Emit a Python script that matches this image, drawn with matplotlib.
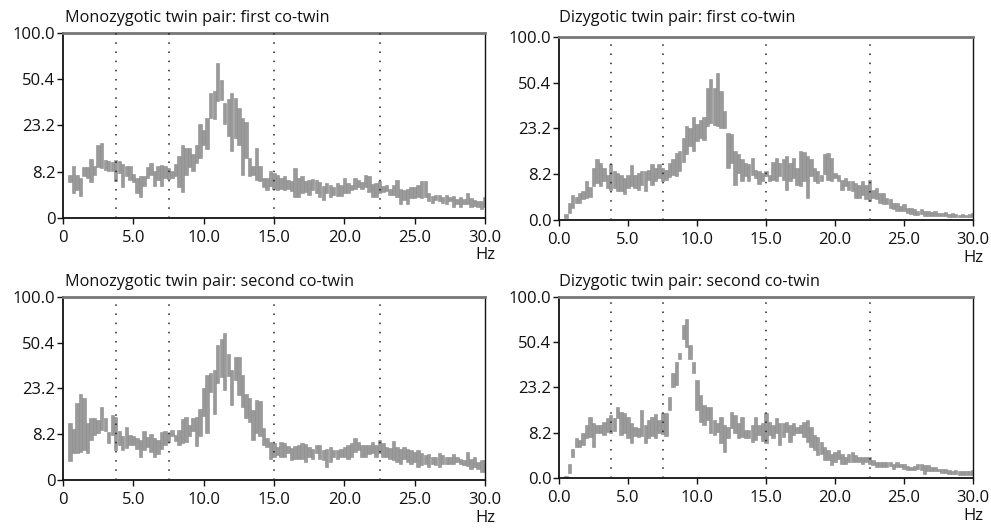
import numpy as np
import matplotlib
matplotlib.use("Agg")
import matplotlib.pyplot as plt
from matplotlib.ticker import NullLocator

plt.rcParams['font.family'] = ['Open Sans', 'DejaVu Sans']

# frequency bins (Hz)
freq = np.arange(0.5, 30.01, 0.25)
band_edges = [3.75, 7.5, 15.0, 22.5]

titles = ["Monozygotic twin pair: first co-twin",
          "Dizygotic twin pair: first co-twin",
          "Monozygotic twin pair: second co-twin",
          "Dizygotic twin pair: second co-twin"]

ytick_vals = [0, 8.2, 23.2, 50.4, 100.0]
ytick_left = ["0", "8.2", "23.2", "50.4", "100.0"]
ytick_right = ["0.0", "8.2", "23.2", "50.4", "100.0"]
xtick_vals = [0, 5, 10, 15, 20, 25, 30]
xtick_left = ["0", "5.0", "10.0", "15.0", "20.0", "25.0", "30.0"]
xtick_right = ["0.0", "5.0", "10.0", "15.0", "20.0", "25.0", "30.0"]

mz1_hi = [7.5, 9.6, 7.5, 6.7, 9.3, 9.3, 11.5, 9.7, 15.9, 16.3,
          11.3, 10.8, 10.7, 11.3, 10.8, 10.2, 9.7, 9.7, 7.8, 6.7,
          7.2, 7.3, 9.3, 10.4, 8.3, 9.7, 9.9, 9.7, 9.1, 8.3,
          10.2, 12.2, 15.9, 14.7, 14.7, 13.0, 15.6, 23.6, 21.4, 26.7,
          40.8, 42.0, 65.0, 50.1, 34.5, 36.7, 40.8, 37.5, 31.7, 26.7,
          24.6, 11.8, 9.6, 14.7, 9.6, 6.7, 6.7, 8.3, 7.9, 7.5,
          6.7, 7.2, 6.4, 6.1, 9.1, 6.7, 7.3, 6.1, 6.4, 6.5,
          6.4, 5.9, 5.2, 5.7, 5.4, 5.0, 5.7, 5.4, 6.7, 5.7,
          5.4, 6.7, 6.4, 5.9, 7.5, 7.3, 5.6, 5.7, 6.1, 5.2,
          5.4, 4.6, 5.4, 6.4, 4.6, 4.4, 4.6, 5.0, 5.0, 5.4,
          6.1, 6.1, 3.8, 3.3, 3.5, 3.5, 3.1, 3.5, 3.1, 3.3,
          2.8, 3.1, 2.8, 3.9, 2.9, 2.6, 2.4, 2.4, 3.1]
mz1_lo = [5.9, 3.8, 4.4, 3.3, 7.2, 6.7, 5.9, 7.5, 9.3, 9.1,
          8.7, 8.3, 8.3, 6.1, 7.9, 5.0, 7.2, 6.4, 5.9, 3.9,
          3.1, 5.2, 6.7, 7.5, 5.2, 6.4, 5.2, 6.7, 6.5, 6.7,
          7.2, 5.0, 4.0, 7.5, 9.3, 8.3, 10.4, 11.8, 15.9, 14.3,
          26.7, 25.9, 35.6, 36.1, 23.6, 18.9, 13.7, 18.2, 15.9, 7.5,
          11.8, 7.2, 7.5, 6.4, 6.1, 5.0, 4.4, 5.2, 4.6, 4.4,
          4.6, 4.4, 4.6, 4.2, 3.1, 3.1, 3.8, 4.0, 3.5, 4.4,
          3.8, 3.1, 2.6, 3.8, 3.1, 3.5, 3.3, 3.3, 3.8, 3.8,
          4.4, 4.6, 5.0, 4.6, 5.0, 4.0, 3.1, 3.1, 3.8, 4.0,
          4.2, 3.5, 3.5, 3.1, 2.0, 2.6, 2.0, 2.9, 2.9, 3.1,
          2.9, 3.1, 2.4, 2.2, 2.6, 2.4, 2.2, 2.0, 2.4, 1.6,
          2.0, 1.6, 2.0, 2.0, 1.6, 1.7, 1.6, 1.3, 1.6]

dz1_hi = [0.8, 2.5, 3.9, 3.6, 4.2, 4.6, 6.7, 5.4, 9.8, 12.3,
          11.2, 9.8, 8.1, 10.9, 9.0, 8.5, 8.1, 7.4, 8.1, 10.5,
          8.1, 8.5, 9.0, 9.0, 9.3, 10.7, 9.8, 10.9, 9.8, 9.3,
          11.2, 12.3, 14.1, 14.6, 19.4, 24.2, 23.4, 28.5, 25.0, 27.0,
          28.5, 46.3, 53.8, 46.6, 59.0, 44.3, 31.9, 21.4, 20.8, 14.6,
          13.6, 12.1, 11.2, 10.9, 12.6, 9.3, 9.0, 8.5, 9.0, 8.1,
          11.5, 12.6, 11.2, 12.1, 13.0, 11.2, 12.6, 9.8, 14.6, 14.4,
          13.0, 12.1, 9.8, 9.0, 8.1, 13.6, 14.1, 12.6, 8.5, 8.1,
          6.9, 7.4, 6.6, 6.6, 6.2, 5.9, 6.6, 5.9, 6.9, 4.8,
          5.2, 4.2, 4.2, 3.3, 3.1, 2.5, 2.5, 2.0, 2.3, 1.7,
          1.7, 1.5, 1.3, 1.5, 1.3, 1.2, 1.1, 1.2, 0.9, 0.9,
          1.1, 0.8, 0.9, 0.8, 0.7, 0.8, 0.7, 0.8, 0.9]
dz1_lo = [0.2, 0.9, 1.7, 2.5, 2.5, 3.1, 3.3, 3.5, 5.6, 6.2,
          5.6, 6.6, 5.2, 4.8, 5.2, 4.6, 4.6, 4.0, 5.2, 5.6,
          5.2, 4.8, 5.9, 4.6, 6.9, 5.9, 6.6, 7.4, 6.6, 6.9,
          7.5, 8.1, 7.8, 9.0, 11.5, 13.6, 16.3, 14.6, 18.0, 19.1,
          18.7, 24.2, 25.6, 24.6, 24.2, 23.4, 23.4, 9.8, 11.2, 5.9,
          8.5, 6.6, 7.8, 6.6, 8.1, 7.4, 6.1, 6.6, 7.8, 6.6,
          6.9, 6.6, 7.8, 6.9, 4.8, 6.6, 7.4, 5.9, 5.6, 6.6,
          3.3, 7.8, 6.6, 6.2, 6.7, 8.3, 6.9, 6.6, 7.4, 6.6,
          4.8, 5.6, 4.8, 4.6, 3.3, 3.3, 3.9, 3.1, 2.8, 3.3,
          3.1, 2.5, 2.3, 2.3, 1.7, 1.5, 1.2, 1.2, 1.3, 0.9,
          0.8, 0.7, 0.7, 0.8, 0.6, 0.6, 0.6, 0.6, 0.5, 0.5,
          0.5, 0.4, 0.4, 0.4, 0.4, 0.4, 0.4, 0.4, 0.4]

mz2_hi = [11.0, 9.5, 17.5, 21.0, 19.1, 11.0, 12.5, 12.5, 11.9, 16.1,
          12.5, 8.8, 13.4, 12.9, 9.1, 7.8, 9.9, 8.0, 7.8, 7.3,
          7.0, 9.1, 7.5, 8.2, 7.3, 7.0, 8.8, 9.1, 8.5, 9.2,
          8.0, 9.2, 12.1, 12.7, 10.5, 12.5, 12.7, 15.5, 23.2, 29.5,
          30.4, 32.2, 48.7, 53.8, 58.6, 42.3, 32.2, 40.2, 40.2, 29.5,
          21.0, 19.1, 15.0, 18.7, 18.2, 9.7, 7.3, 6.5, 6.2, 5.5,
          6.5, 6.2, 5.6, 5.3, 5.6, 5.8, 6.2, 6.1, 5.5, 5.1,
          5.8, 5.8, 4.9, 5.1, 5.5, 4.9, 4.9, 5.1, 5.5, 5.8,
          6.2, 7.3, 6.5, 5.8, 5.8, 5.8, 6.5, 5.8, 6.8, 6.3,
          5.5, 5.3, 6.7, 5.5, 5.1, 5.5, 5.1, 4.8, 4.5, 4.8,
          4.2, 3.9, 4.1, 3.6, 3.6, 4.2, 3.9, 3.6, 3.6, 4.1,
          3.6, 3.2, 3.0, 4.5, 3.2, 3.6, 2.7, 3.0, 3.0]
mz2_lo = [2.9, 4.2, 4.3, 4.5, 4.8, 4.2, 6.8, 8.0, 8.5, 9.2,
          9.1, 6.2, 8.0, 4.8, 5.8, 4.8, 5.3, 5.8, 5.8, 5.1,
          3.6, 4.8, 5.5, 4.5, 3.6, 4.1, 5.1, 5.8, 6.5, 7.7,
          6.7, 5.8, 6.2, 6.5, 7.7, 9.1, 5.6, 7.7, 13.1, 8.5,
          21.8, 13.8, 25.6, 28.5, 22.4, 29.0, 16.7, 27.0, 20.3, 16.1,
          12.5, 11.4, 6.8, 8.4, 7.7, 5.8, 5.5, 3.2, 3.6, 3.9,
          3.6, 3.6, 4.2, 3.0, 3.2, 3.2, 3.2, 2.6, 3.6, 3.1,
          4.2, 3.1, 3.0, 1.9, 2.7, 3.6, 3.2, 3.6, 3.6, 3.2,
          3.6, 4.5, 4.8, 3.6, 3.6, 4.1, 4.3, 3.6, 4.2, 3.6,
          3.6, 3.2, 3.0, 2.7, 2.3, 3.1, 2.7, 2.3, 2.6, 1.9,
          2.2, 2.4, 1.9, 2.3, 2.2, 1.9, 2.4, 2.3, 2.4, 2.3,
          2.6, 2.3, 2.2, 2.0, 1.6, 1.9, 1.5, 1.1, 1.1]

dz2_hi = [0.3, 2.1, 4.6, 6.9, 6.5, 8.1, 10.2, 12.5, 10.7, 10.2,
          10.2, 11.0, 12.1, 13.0, 12.1, 15.6, 14.0, 13.6, 12.5, 10.7,
          9.7, 9.3, 14.7, 10.2, 11.7, 12.5, 13.3, 11.5, 13.6, 13.6,
          19.2, 30.0, 36.7, 42.3, 65.9, 72.6, 48.0, 36.7, 26.5, 20.0,
          16.3, 15.6, 15.6, 11.5, 10.7, 12.5, 10.2, 9.7, 14.0, 13.0,
          10.7, 12.5, 8.9, 8.9, 10.2, 12.5, 10.2, 10.7, 13.6, 11.0,
          10.2, 12.1, 10.7, 10.7, 11.0, 10.2, 10.7, 9.7, 10.2, 11.0,
          11.5, 9.7, 7.7, 7.3, 6.2, 5.1, 4.5, 3.8, 4.2, 4.5,
          3.8, 3.2, 3.8, 4.2, 3.6, 3.2, 3.2, 3.2, 3.2, 2.7,
          2.4, 2.4, 2.3, 2.4, 2.4, 2.1, 2.4, 2.1, 2.0, 1.7,
          1.6, 1.7, 2.0, 2.0, 1.9, 1.9, 1.6, 1.5, 1.3, 1.2,
          1.2, 1.1, 1.0, 1.1, 0.9, 0.9, 0.9, 1.0, 1.1]
dz2_lo = [0.1, 0.7, 3.2, 5.0, 5.1, 5.5, 6.9, 7.2, 5.1, 8.1,
          8.1, 7.7, 8.4, 8.1, 8.7, 12.1, 7.7, 8.2, 6.9, 5.8,
          7.5, 7.3, 7.5, 6.0, 6.9, 7.5, 6.9, 8.1, 7.9, 7.5,
          14.6, 23.4, 24.2, 38.7, 53.0, 46.9, 38.7, 30.0, 14.6, 11.0,
          10.2, 11.5, 8.1, 7.7, 8.4, 5.8, 4.2, 6.9, 9.3, 8.1,
          6.9, 7.3, 6.9, 6.9, 6.2, 6.5, 7.7, 6.4, 5.8, 7.7,
          6.9, 8.1, 5.5, 7.3, 8.4, 6.2, 7.7, 8.1, 8.1, 7.3,
          6.2, 5.1, 4.5, 3.6, 3.8, 2.7, 2.7, 1.9, 2.4, 2.9,
          2.0, 2.1, 2.4, 2.4, 2.4, 2.3, 2.1, 2.4, 2.1, 1.9,
          1.6, 1.6, 1.6, 1.6, 1.7, 1.3, 1.6, 1.5, 1.2, 1.1,
          1.1, 1.1, 1.2, 1.1, 0.6, 0.9, 0.9, 0.9, 0.9, 0.7,
          0.7, 0.6, 0.6, 0.6, 0.4, 0.4, 0.4, 0.4, 0.4]


def fwd(y):
    y = np.asarray(y, dtype=float)
    return np.log10(np.maximum(y + 10.0, 1e-9))


def inv(v):
    return 10.0 ** np.asarray(v, dtype=float) - 10.0


W, H = 991, 529
fig = plt.figure(figsize=(W / 100, H / 100), dpi=100)

# axes boxes in pixels: left, top, right, bottom
boxes = [(63, 33, 485, 218), (559, 37, 973, 220),
         (63, 297, 485, 480), (559, 297, 973, 478)]
title_xy = [(65, 18), (559, 18), (65, 282), (559, 282)]
panels = [(mz1_lo, mz1_hi), (dz1_lo, dz1_hi), (mz2_lo, mz2_hi), (dz2_lo, dz2_hi)]

for i, ((l, t, r, b), (lo, hi)) in enumerate(zip(boxes, panels)):
    ax = fig.add_axes([l / W, 1 - b / H, (r - l) / W, (b - t) / H])
    lo = np.array(lo)
    hi = np.array(hi)
    ax.set_yscale('function', functions=(fwd, inv))
    ax.bar(freq, hi - lo, bottom=lo, width=0.24, color='#9a9a9a',
           edgecolor='#8a8a8a', linewidth=0.4, zorder=2)
    for f in band_edges:
        ax.axvline(f, color='#222222', lw=1.1, ls=(0, (1, 5)), zorder=3)
    ax.set_xlim(0, 30)
    ax.set_ylim(0, 100)
    right = (i % 2 == 1)
    ax.set_yticks(ytick_vals)
    ax.set_yticklabels(ytick_right if right else ytick_left)
    ax.set_xticks(xtick_vals)
    ax.set_xticklabels(xtick_right if right else xtick_left)
    ax.yaxis.set_minor_locator(NullLocator())
    ax.xaxis.set_minor_locator(NullLocator())
    ax.tick_params(axis='both', direction='out', length=4, width=1,
                   labelsize=12, colors='#111111')
    ax.tick_params(axis='x', pad=5)
    ax.tick_params(axis='y', pad=1.5)
    for s in ['left', 'bottom']:
        ax.spines[s].set_color('#111111')
        ax.spines[s].set_linewidth(1.3)
    ax.spines['right'].set_color('#111111')
    ax.spines['right'].set_linewidth(1.0)
    ax.spines['top'].set_color('#777777')
    ax.spines['top'].set_linewidth(2.0)
    ax.annotate('Hz', xy=(1.0, 0.0), xycoords='axes fraction',
                xytext=(0, -27), textcoords='offset points',
                ha='center', va='center', fontsize=12, color='#111111')
    tx, ty = title_xy[i]
    fig.text(tx / W, 1 - ty / H, titles[i], ha='left', va='center',
             fontsize=11.7, color='#111111')

fig.savefig('out.png', dpi=100)
